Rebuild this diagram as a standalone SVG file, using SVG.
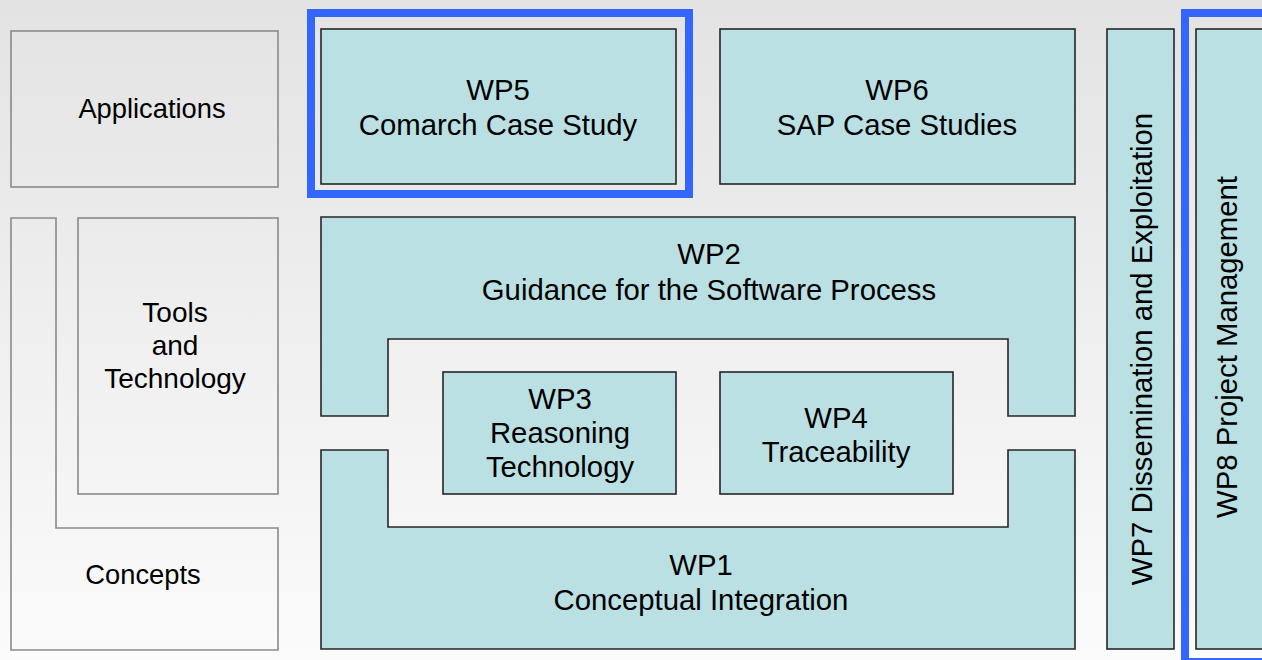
<svg xmlns="http://www.w3.org/2000/svg" width="1262" height="660" viewBox="0 0 1262 660">
  <defs>
    <linearGradient id="bg" x1="0" y1="0" x2="0" y2="1">
      <stop offset="0" stop-color="#e3e3e3"/>
      <stop offset="1" stop-color="#fbfbfb"/>
    </linearGradient>
    <style>
      .wp { fill: #bbe0e3; stroke: #262626; stroke-width: 1.6; }
      .layer { fill: none; stroke: #8a8a8a; stroke-width: 1.6; }
      .focus { fill: none; stroke: #3366ff; stroke-width: 8; }
      text { font-family: "Liberation Sans", Arial, sans-serif; font-size: 29.3px; fill: #000; text-anchor: middle; }
      .side { font-size: 27.3px; }
      .mid { font-size: 28px; }
    </style>
  </defs>

  <!-- backdrop -->
  <rect x="0" y="0" width="1262" height="660" fill="url(#bg)"/>

  <!-- layer labels on the left -->
  <g id="applications">
    <rect class="layer" x="11" y="31" width="267" height="156"/>
    <text class="side" x="152" y="118">Applications</text>
  </g>
  <g id="concepts">
    <path class="layer" d="M11,218 H56 V528 H278 V650 H11 Z"/>
    <text class="side" x="143" y="584">Concepts</text>
  </g>
  <g id="tools">
    <rect class="layer" x="78" y="218" width="200" height="276"/>
    <text class="mid" x="175" y="322">Tools</text>
    <text class="mid" x="175" y="355">and</text>
    <text class="mid" x="175" y="388">Technology</text>
  </g>

  <!-- work packages -->
  <g id="wp5">
    <rect class="wp" x="321" y="29" width="355" height="155"/>
    <text x="498" y="100">WP5</text>
    <text x="498" y="135">Comarch Case Study</text>
  </g>
  <g id="wp6">
    <rect class="wp" x="720" y="29" width="355" height="155"/>
    <text x="897" y="100">WP6</text>
    <text x="897" y="135">SAP Case Studies</text>
  </g>
  <g id="wp2">
    <path class="wp" d="M321,217 H1075 V416 H1008 V339 H388 V416 H321 Z"/>
    <text x="709" y="264">WP2</text>
    <text x="709" y="300">Guidance for the Software Process</text>
  </g>
  <g id="wp3">
    <rect class="wp" x="443" y="372" width="233" height="122"/>
    <text x="560" y="409">WP3</text>
    <text x="560" y="443">Reasoning</text>
    <text x="560" y="477">Technology</text>
  </g>
  <g id="wp4">
    <rect class="wp" x="720" y="372" width="233" height="122"/>
    <text x="836" y="428">WP4</text>
    <text x="836" y="462">Traceability</text>
  </g>
  <g id="wp1">
    <path class="wp" d="M321,450 H388 V527 H1008 V450 H1075 V649 H321 Z"/>
    <text x="701" y="575">WP1</text>
    <text x="701" y="610">Conceptual Integration</text>
  </g>
  <g id="wp7">
    <rect class="wp" x="1107" y="29" width="67" height="620"/>
    <text transform="translate(1152,349) rotate(-90)">WP7 Dissemination and Exploitation</text>
  </g>
  <g id="wp8">
    <rect class="wp" x="1196" y="29" width="80" height="620"/>
    <text transform="translate(1237,347) rotate(-90)">WP8 Project Management</text>
  </g>

  <!-- highlight frames -->
  <g id="highlights">
    <rect class="focus" x="311" y="13" width="378" height="181"/>
    <rect class="focus" x="1185" y="13" width="100" height="649"/>
  </g>
</svg>
